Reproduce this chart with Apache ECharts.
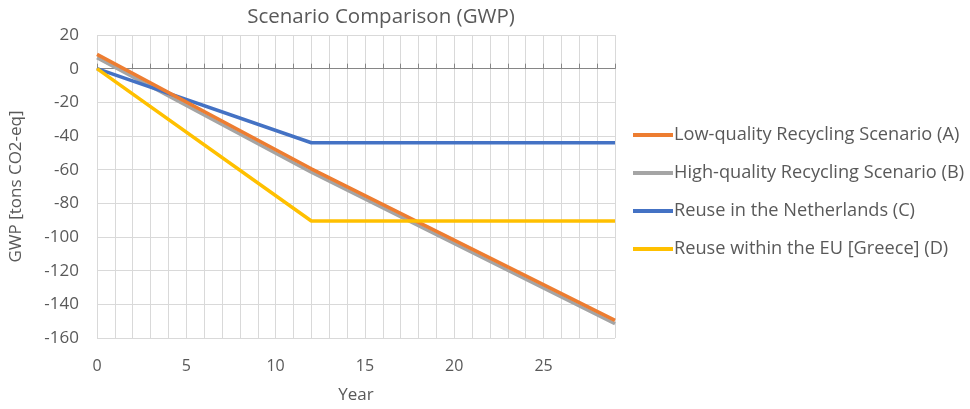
<!DOCTYPE html>
<html>
<head>
<meta charset="utf-8">
<script src="https://cdn.jsdelivr.net/npm/echarts@6/dist/echarts.min.js"></script>
<style>
html,body{margin:0;padding:0;background:#fff;}
#chart{width:970px;height:409px;}
</style>
</head>
<body>
<div id="chart"></div>
<script>
const titleText = 'Scenario Comparison (GWP)';
const xName = 'Year';
const yName = 'GWP [tons CO2-eq]';
const seriesNames = [
  'Low-quality Recycling Scenario (A)',
  'High-quality Recycling Scenario (B)',
  'Reuse in the Netherlands (C)',
  'Reuse within the EU [Greece] (D)'
];
const years = [0, 12, 29];
const valuesA = [8.5, -59.5, -149.5];
const valuesB = [6.5, -61.5, -151.5];
const valuesC = [0, -44, -44];
const valuesD = [0, -90.5, -90.5];
const colors = ['#ED7D31', '#A5A5A5', '#4472C4', '#FFC000'];

const allValues = [valuesA, valuesB, valuesC, valuesD];
const font = '"Open Sans", "Noto Sans", sans-serif';
const txt = '#595959';

const chart = echarts.init(document.getElementById('chart'), null, {renderer: 'canvas'});
chart.setOption({
  animation: false,
  backgroundColor: '#fff',
  title: {
    text: titleText, left: 376, top: 2, textAlign: 'center',
    textStyle: {fontFamily: font, fontSize: 20.5, fontWeight: 'normal', color: txt}
  },
  legend: {
    orient: 'vertical', left: 628, top: 121, itemGap: 20,
    itemWidth: 40, itemHeight: 4,
    icon: 'rect',
    textStyle: {fontFamily: font, fontSize: 18.2, color: txt, padding: [0,0,0,-4]},
    data: seriesNames
  },
  grid: {left: 95, right: 355, top: 35, bottom: 69, containLabel: false},
  xAxis: [{
    type: 'value', min: 0, max: 29, interval: 5,
    name: xName, nameLocation: 'middle', nameGap: 49,
    nameTextStyle: {fontFamily: font, fontSize: 17, color: txt},
    axisLine: {show: false, onZero: false},
    axisTick: {show: false},
    axisLabel: {fontFamily: font, fontSize: 16, color: txt, margin: 20, showMaxLabel: false},
    splitLine: {show: true, lineStyle: {color: '#D9D9D9', width: 1}},
    minorTick: {show: false, splitNumber: 5},
    minorSplitLine: {show: true, lineStyle: {color: '#D9D9D9', width: 1}}
  }, {
    type: 'value', min: 0, max: 29, interval: 1, position: 'top',
    axisLine: {show: true, onZero: true, lineStyle: {color: '#868686', width: 1}},
    axisTick: {show: true, inside: false, length: 5, lineStyle: {color: '#868686'}},
    axisLabel: {show: false},
    splitLine: {show: false}
  }],
  yAxis: {
    type: 'value', min: -160, max: 20, interval: 20,
    name: yName, nameLocation: 'middle', nameGap: 72, nameRotate: 90,
    nameTextStyle: {fontFamily: font, fontSize: 17, color: txt},
    axisLine: {show: false}, axisTick: {show: false},
    axisLabel: {fontFamily: font, fontSize: 17, color: txt, margin: 18},
    splitLine: {show: true, lineStyle: {color: '#D9D9D9', width: 1}}
  },
  series: seriesNames.map((name, i) => ({
    name: name, type: 'line', xAxisIndex: 0,
    data: years.map((x, j) => [x, allValues[i][j]]),
    showSymbol: false, symbol: 'none',
    lineStyle: {color: colors[i], width: 3.5},
    itemStyle: {color: colors[i]},
    z: i === 0 ? 5 : 2 + i
  }))
});
</script>
</body>
</html>
